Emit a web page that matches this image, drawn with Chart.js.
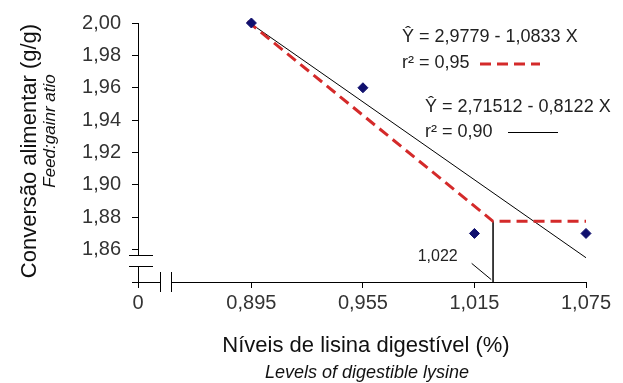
<!DOCTYPE html>
<html>
<head>
<meta charset="utf-8">
<script src="https://cdn.jsdelivr.net/npm/chart.js@4/dist/chart.umd.min.js"></script>
<style>
  html, body { margin: 0; padding: 0; background: #fff; }
  #wrap { width: 623px; height: 383px; position: relative; }
</style>
</head>
<body>
<div id="wrap"><canvas id="myChart"></canvas></div>
<script>
'use strict';

// observed means
const pointX = [0.895, 0.955, 1.015, 1.075];
const pointY = [2.00, 1.96, 1.87, 1.87];

// linear fit (black) as drawn
const blackX = [0.893, 1.075];
const blackY = [2.001, 1.855];

// linear response plateau (red dashed) as drawn
const redX = [0.893, 1.025, 1.075];
const redY = [2.001, 1.8775, 1.8775];

// break point drop line + pointer of the label
const dropX = [1.025, 1.025];
const dropY = [1.84, 1.8775];
const pointerX = [1.0135, 1.024];
const pointerY = [1.8515, 1.8415];

// axes
const xTicks = [0.834, 0.895, 0.955, 1.015, 1.075];
const xTickLabels = ['0', '0,895', '0,955', '1,015', '1,075'];
const yTicks = [1.86, 1.88, 1.90, 1.92, 1.94, 1.96, 1.98, 2.00];

const font = '"Liberation Sans", Arial, sans-serif';

function toXY(xs, ys) {
  let out = [];
  for (let i = 0; i < xs.length; i++) {
    out.push({x: xs[i], y: ys[i]});
  }
  return out;
}

const extras = {
  id: 'extras',
  afterDraw(chart) {
    const ctx = chart.ctx;
    const a = chart.chartArea;
    const xs = chart.scales.x;
    const ys = chart.scales.y;
    ctx.save();

    // y axis break
    const yb1 = a.bottom - 27, yb2 = a.bottom - 16;
    ctx.fillStyle = '#fff';
    ctx.fillRect(a.left - 3, yb1 + 1, 6, yb2 - yb1 - 1);
    ctx.strokeStyle = '#000';
    ctx.lineWidth = 1;
    ctx.beginPath();
    ctx.moveTo(a.left - 9, yb1 + 0.5); ctx.lineTo(a.left + 15, yb1 + 0.5);
    ctx.moveTo(a.left - 9, yb2 + 0.5); ctx.lineTo(a.left + 15, yb2 + 0.5);
    ctx.stroke();

    // x axis break
    const xb1 = a.left + 22, xb2 = a.left + 33;
    ctx.fillStyle = '#fff';
    ctx.fillRect(xb1 + 1, a.bottom - 3, xb2 - xb1 - 1, 6);
    ctx.beginPath();
    ctx.moveTo(xb1 + 0.5, a.bottom - 10); ctx.lineTo(xb1 + 0.5, a.bottom + 10);
    ctx.moveTo(xb2 + 0.5, a.bottom - 10); ctx.lineTo(xb2 + 0.5, a.bottom + 10);
    ctx.moveTo(a.left - 6, a.bottom + 0.5); ctx.lineTo(a.left, a.bottom + 0.5);
    ctx.stroke();

    // break point label
    ctx.fillStyle = '#222';
    ctx.font = '16px ' + font;
    ctx.textAlign = 'right';
    ctx.textBaseline = 'middle';
    ctx.fillText('1,022', xs.getPixelForValue(pointerX[0]) - 14, ys.getPixelForValue(pointerY[0]) - 7);

    // equations
    ctx.textAlign = 'left';
    ctx.font = '18px ' + font;
    ctx.fillText('\u0176 = 2,9779 - 1,0833 X', 402, 37);
    ctx.fillText('r\u00B2 = 0,95', 402, 63);
    ctx.fillText('\u0176 = 2,71512 - 0,8122 X', 425, 107);
    ctx.fillText('r\u00B2 = 0,90', 425, 132);
    ctx.strokeStyle = '#d42a2a';
    ctx.lineWidth = 3;
    ctx.setLineDash([11, 6]);
    ctx.beginPath(); ctx.moveTo(480, 64); ctx.lineTo(540, 64); ctx.stroke();
    ctx.setLineDash([]);
    ctx.strokeStyle = '#000';
    ctx.lineWidth = 1;
    ctx.beginPath(); ctx.moveTo(508, 132.5); ctx.lineTo(558, 132.5); ctx.stroke();

    // axis titles
    ctx.fillStyle = '#111';
    ctx.textAlign = 'center';
    ctx.font = '22px ' + font;
    ctx.fillText('N\u00edveis de lisina digest\u00edvel (%)', 366, 346);
    ctx.font = 'italic 18px ' + font;
    ctx.fillText('Levels of digestible lysine', 367, 373);

    ctx.translate(30, 151);
    ctx.rotate(-Math.PI / 2);
    ctx.font = '22px ' + font;
    ctx.fillText('Convers\u00e3o alimentar (g/g)', 0, 0);
    ctx.font = 'italic 17px ' + font;
    ctx.fillText('Feed:gainr atio', 20, 20);
    ctx.restore();
  }
};

let ctx = document.getElementById('myChart').getContext('2d');
let myChart = new Chart(ctx, {
  type: 'scatter',
  data: {
    datasets: [{
      data: toXY(pointX, pointY),
      pointStyle: 'rectRot',
      pointRadius: 5,
      backgroundColor: '#10106e',
      borderColor: '#10106e',
      showLine: false
    }, {
      data: toXY(redX, redY),
      showLine: true,
      borderColor: '#d42a2a',
      borderWidth: 3,
      borderDash: [11, 6],
      pointRadius: 0
    }, {
      data: toXY(blackX, blackY),
      showLine: true,
      borderColor: '#000',
      borderWidth: 1,
      pointRadius: 0
    }, {
      data: toXY(dropX, dropY),
      showLine: true,
      borderColor: '#000',
      borderWidth: 1.5,
      pointRadius: 0
    }, {
      data: toXY(pointerX, pointerY),
      showLine: true,
      borderColor: '#000',
      borderWidth: 1,
      pointRadius: 0
    }]
  },
  options: {
    responsive: true,
    maintainAspectRatio: false,
    animation: false,
    clip: false,
    layout: { padding: { top: 23, right: 37, left: 0, bottom: 0 } },
    plugins: { legend: { display: false }, tooltip: { enabled: false } },
    scales: {
      x: {
        type: 'linear',
        min: 0.834,
        max: 1.075,
        afterBuildTicks: function (scale) { scale.ticks = xTicks.map(v => ({value: v})); },
        afterFit: function (scale) { scale.height = 101; },
        border: { display: true, color: '#000', width: 1 },
        grid: { drawOnChartArea: false, drawTicks: true, tickLength: 6, color: '#000' },
        ticks: {
          color: '#333',
          padding: 3,
          font: { family: font, size: 20 },
          callback: function (v, i) { return xTickLabels[i]; }
        }
      },
      y: {
        min: 1.84,
        max: 2.00,
        afterBuildTicks: function (scale) { scale.ticks = yTicks.map(v => ({value: v})); },
        afterFit: function (scale) { scale.width = 138; },
        border: { display: true, color: '#000', width: 1 },
        grid: { drawOnChartArea: false, drawTicks: true, tickLength: 6, color: '#000' },
        ticks: {
          color: '#333',
          padding: 11,
          font: { family: font, size: 20 },
          callback: function (v) { return v.toFixed(2).replace('.', ','); }
        }
      }
    }
  },
  plugins: [extras]
});
</script>
</body>
</html>
